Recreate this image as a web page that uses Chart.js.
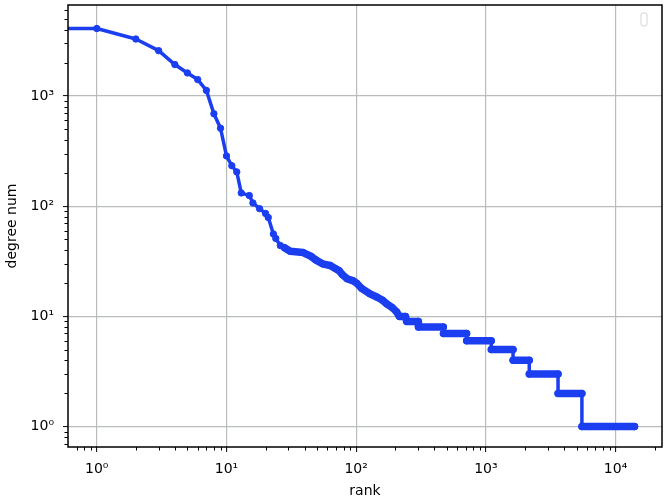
<!DOCTYPE html>
<html>
<head>
<meta charset="utf-8">
<script src="https://cdn.jsdelivr.net/npm/chart.js@4/dist/chart.umd.min.js"></script>
<style>
  body { margin: 0; background: #fff; }
</style>
</head>
<body>
<canvas id="myChart" width="667" height="500"></canvas>
<script>
// rank vs degree
var rankValues = [0.5, 1, 2, 3, 4, 5, 6, 7, 8, 9, 10, 11, 12, 13, 15, 16, 18, 20, 21, 23, 24, 26,
    28, 31, 39, 45, 48, 50, 55, 63, 70, 74, 78, 85, 95, 101, 110, 128, 144, 160, 172, 190, 205,
    215, 240, 245, 300, 302, 470, 471, 710, 711, 1100, 1101, 1620, 1621, 2160, 2161, 3600, 3601,
    5500, 5501, 14000];
var degreeValues = [4100, 4100, 3290, 2580, 1930, 1620, 1410, 1125, 690, 510, 286, 233, 205, 132, 125, 107, 95, 86, 79, 56, 51, 44,
    42, 39, 38, 35, 33, 32, 30, 29, 27, 26, 24, 22, 21, 20, 18, 16, 15, 14, 13, 12, 11,
    10, 10, 9, 9, 8, 8, 7, 7, 6, 6, 5, 5, 4, 4, 3, 3, 2,
    2, 1, 1];

var xTickValues = [1, 10, 100, 1000, 10000];
var xTickLabels = ['10\u2070', '10\u00b9', '10\u00b2', '10\u00b3', '10\u2074'];
var yTickValues = [1, 10, 100, 1000];
var yTickLabels = ['10\u2070', '10\u00b9', '10\u00b2', '10\u00b3'];

var xMin = 0.609, xMax = 22800;
var yMin = 0.653, yMax = 6700;

var lineColor = '#1a3ef0';
var gridColor = '#b8bcbc';

// major + minor (2..9) log ticks inside [min, max]
function logTicks(min, max) {
    var out = [];
    for (var e = -1; e <= 5; e++) {
        for (var m = 1; m <= 9; m++) {
            var v = Math.round(m * Math.pow(10, e) * 1000) / 1000;
            if (v >= min && v <= max) out.push(v);
        }
    }
    return out;
}

var frame = {
    id: 'frame',
    afterDatasetsDraw: function (chart) {
        var a = chart.chartArea, c = chart.ctx;
        c.save();
        c.strokeStyle = '#000';
        c.lineWidth = 1.5;
        c.strokeRect(a.left, a.top, a.right - a.left, a.bottom - a.top);

        // minor tick marks
        c.lineWidth = 1;
        var xs = chart.scales.x, ys = chart.scales.y;
        logTicks(xMin, xMax).forEach(function (v) {
            if (xTickValues.indexOf(v) >= 0) return;
            var px = Math.round(xs.getPixelForValue(v)) + 0.5;
            c.beginPath(); c.moveTo(px, a.bottom); c.lineTo(px, a.bottom + 3.5); c.stroke();
        });
        logTicks(yMin, yMax).forEach(function (v) {
            if (yTickValues.indexOf(v) >= 0) return;
            var py = Math.round(ys.getPixelForValue(v)) + 0.5;
            c.beginPath(); c.moveTo(a.left, py); c.lineTo(a.left - 3.5, py); c.stroke();
        });

        // empty legend box
        var bx = a.right - 21, by = a.top + 8, bw = 6, bh = 13, r = 2;
        c.strokeStyle = '#d4d4d4';
        c.fillStyle = '#fff';
        c.beginPath();
        c.moveTo(bx + r, by);
        c.arcTo(bx + bw, by, bx + bw, by + bh, r);
        c.arcTo(bx + bw, by + bh, bx, by + bh, r);
        c.arcTo(bx, by + bh, bx, by, r);
        c.arcTo(bx, by, bx + bw, by, r);
        c.closePath();
        c.fill();
        c.stroke();
        c.restore();
    }
};

var points = rankValues.map(function (r, i) { return { x: r, y: degreeValues[i] }; });

var ctx = document.getElementById('myChart').getContext('2d');
var myChart = new Chart(ctx, {
    type: 'line',
    data: {
        datasets: [
            {
                label: 'degree',
                data: points,
                borderColor: lineColor,
                backgroundColor: lineColor,
                borderWidth: 3.5,
                borderCapStyle: 'round',
                borderJoinStyle: 'round',
                pointRadius: function (c) { return c.raw && c.raw.x < xMin ? 0 : 3.2; },
                pointBorderWidth: 1,
                pointBackgroundColor: lineColor,
                pointBorderColor: lineColor,
                tension: 0,
                clip: 0,
                segment: {
                    borderWidth: function (c) {
                        var x0 = c.p0.parsed.x, x1 = c.p1.parsed.x;
                        if (x1 - x0 <= 1 && c.p0.parsed.y !== c.p1.parsed.y) return 3.5;
                        return x0 >= 28 ? 7.5 : 3.5;
                    }
                }
            },
        ]
    },
    options: {
        responsive: false,
        animation: false,
        events: [],
        layout: { padding: { top: 3, right: 4, left: 0, bottom: 0 } },
        plugins: {
            legend: { display: false },
            tooltip: { enabled: false },
        },
        scales: {
            x: {
                type: 'logarithmic',
                min: xMin,
                max: xMax,
                afterBuildTicks: function (s) {
                    s.ticks = logTicks(xMin, xMax).map(function (v) { return { value: v }; });
                },
                afterFit: function (s) {
                    s.height = 53;
                    s.paddingLeft = 0;
                    s.paddingRight = 0;
                },
                border: { display: false },
                grid: {
                    color: function (c) { return xTickValues.indexOf(c.tick.value) >= 0 ? gridColor : 'transparent'; },
                    tickColor: function (c) { return xTickValues.indexOf(c.tick.value) >= 0 ? '#000' : 'transparent'; },
                    lineWidth: 1.2,
                    tickLength: 5,
                    tickWidth: 1,
                },
                ticks: {
                    autoSkip: false,
                    maxRotation: 0,
                    padding: 9,
                    color: '#000',
                    font: { family: 'DejaVu Sans', size: 14 },
                    callback: function (v) {
                        var i = xTickValues.indexOf(v);
                        return i >= 0 ? xTickLabels[i] : null;
                    }
                },
                title: {
                    display: true,
                    text: 'rank',
                    color: '#000',
                    padding: { top: 0, bottom: 0 },
                    font: { family: 'DejaVu Sans', size: 14 },
                },
            },
            y: {
                type: 'logarithmic',
                min: yMin,
                max: yMax,
                afterBuildTicks: function (s) {
                    s.ticks = logTicks(yMin, yMax).map(function (v) { return { value: v }; });
                },
                afterFit: function (s) {
                    s.width = 68;
                    s.paddingTop = 0;
                    s.paddingBottom = 0;
                },
                border: { display: false },
                grid: {
                    color: function (c) { return yTickValues.indexOf(c.tick.value) >= 0 ? gridColor : 'transparent'; },
                    tickColor: function (c) { return yTickValues.indexOf(c.tick.value) >= 0 ? '#000' : 'transparent'; },
                    lineWidth: 1.2,
                    tickLength: 5,
                    tickWidth: 1,
                },
                ticks: {
                    autoSkip: false,
                    padding: 9,
                    color: '#000',
                    font: { family: 'DejaVu Sans', size: 14 },
                    callback: function (v) {
                        var i = yTickValues.indexOf(v);
                        return i >= 0 ? yTickLabels[i] : null;
                    }
                },
                title: {
                    display: true,
                    text: 'degree num',
                    color: '#000',
                    padding: { top: 4, bottom: 0 },
                    font: { family: 'DejaVu Sans', size: 14 },
                },
            },
        },
    },
    plugins: [frame],
});
</script>
</body>
</html>
